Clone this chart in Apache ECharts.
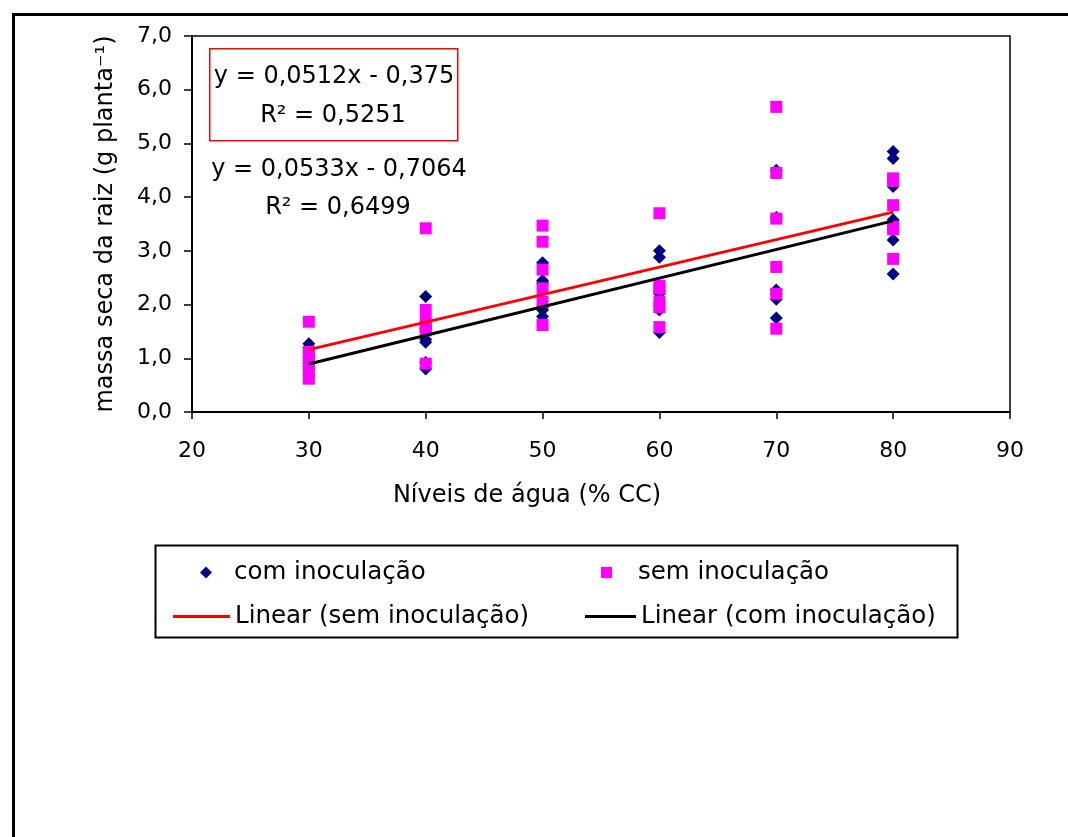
<!DOCTYPE html>
<html>
<head>
<meta charset="utf-8">
<script src="https://cdn.jsdelivr.net/npm/echarts@6/dist/echarts.min.js"></script>
<style>
  html, body { margin: 0; padding: 0; background: #fff; }
  #chart { width: 1068px; height: 837px; }
</style>
</head>
<body>
<div id="chart"></div>
<script>
// níveis de água (% CC)
const levels = [30, 40, 50, 60, 70, 80];

// massa seca da raiz, uma lista por nível
const comValues = [
  [1.27, 1.2, 1.02, 0.9, 0.85, 0.8],
  [2.15, 1.55, 1.35, 1.3, 0.92, 0.8],
  [2.78, 2.45, 2.4, 1.95, 1.9, 1.78],
  [3.0, 2.88, 2.25, 2.2, 1.9, 1.48],
  [4.5, 3.62, 2.27, 2.2, 2.1, 1.75],
  [4.85, 4.72, 4.2, 3.58, 3.2, 2.57]
];
const semValues = [
  [1.68, 1.12, 1.02, 0.92, 0.75, 0.62],
  [3.42, 1.9, 1.68, 1.58, 1.52, 0.9],
  [3.47, 3.17, 2.65, 2.3, 2.05, 1.62],
  [3.7, 2.35, 2.3, 2.05, 1.95, 1.58],
  [5.68, 4.45, 3.6, 2.7, 2.2, 1.55],
  [4.35, 4.3, 3.85, 3.45, 3.4, 2.85]
];

// linhas de tendência (extremos)
const trendSem = [[30, 1.161], [80, 3.721]];
const trendCom = [[30, 0.893], [80, 3.558]];

const names = ["com inoculação", "sem inoculação", "Linear (sem inoculação)", "Linear (com inoculação)"];

function toPoints(vals) {
  const pts = [];
  levels.forEach((lv, i) => vals[i].forEach(v => pts.push([lv, v])));
  return pts;
}

const font = "DejaVu Sans, Verdana, sans-serif";
const chart = echarts.init(document.getElementById("chart"), null, { renderer: "canvas" });

function legendText(pad) {
  return { fontSize: 24.5, color: "#000", fontFamily: font, padding: [0, 0, 0, pad] };
}

chart.setOption({
  animation: false,
  backgroundColor: "#fff",
  textStyle: { fontFamily: font },
  grid: { left: 192, right: 58, top: 36, bottom: 425, show: true, borderColor: "#000", borderWidth: 1.5 },
  xAxis: {
    type: "value", min: 20, max: 90, interval: 10,
    name: "Níveis de água (% CC)", nameLocation: "middle", nameGap: 72,
    nameTextStyle: { fontSize: 24, color: "#000", padding: [0, 148, 0, 0] },
    axisLine: { lineStyle: { color: "#000", width: 2 } },
    axisTick: { show: true, length: 7, lineStyle: { color: "#000", width: 1.5 } },
    axisLabel: { fontSize: 22, color: "#000", margin: 28 },
    splitLine: { show: false }
  },
  yAxis: {
    type: "value", min: 0, max: 7, interval: 1,
    name: "massa seca da raiz (g planta⁻¹)", nameLocation: "middle", nameGap: 74,
    nameTextStyle: { fontSize: 24, color: "#000" },
    axisLine: { lineStyle: { color: "#000", width: 2 } },
    axisTick: { show: true, length: 8, lineStyle: { color: "#000", width: 1.5 } },
    axisLabel: { fontSize: 22, color: "#000", margin: 20, formatter: v => v.toFixed(1).replace(".", ",") },
    splitLine: { show: false }
  },
  legend: [
    { data: [{ name: names[0], icon: "diamond" }], selectedMode: false, left: 195, top: 555, itemWidth: 12, itemHeight: 12, textStyle: legendText(17) },
    { data: [{ name: names[1], icon: "rect" }], selectedMode: false, left: 596, top: 555, itemWidth: 11, itemHeight: 11, textStyle: legendText(21) },
    { data: [{ name: names[2], icon: "rect" }], selectedMode: false, left: 168, top: 599, itemWidth: 57, itemHeight: 3, textStyle: legendText(0) },
    { data: [{ name: names[3], icon: "rect" }], selectedMode: false, left: 580, top: 599, itemWidth: 51, itemHeight: 3, textStyle: legendText(0) }
  ],
  graphic: [
    { type: "rect", left: 11, top: 12, shape: { width: 1100, height: 900 }, style: { fill: "none", stroke: "#000", lineWidth: 3 }, silent: true },
    { type: "rect", left: 153, top: 543, shape: { width: 802, height: 92 }, style: { fill: "none", stroke: "#000", lineWidth: 2 }, silent: true },
    { type: "rect", left: 209, top: 48, shape: { width: 248, height: 92 }, style: { fill: "#fff", stroke: "#ff0000", lineWidth: 1.5 }, z: 10 },
    { type: "text", x: 334, y: 77, style: { text: "y = 0,0512x - 0,375", fontSize: 24, fill: "#000", fontFamily: font, align: "center", verticalAlign: "middle" }, z: 11 },
    { type: "text", x: 333, y: 116, style: { text: "R² = 0,5251", fontSize: 24, fill: "#000", fontFamily: font, align: "center", verticalAlign: "middle" }, z: 11 },
    { type: "text", x: 339, y: 170, style: { text: "y = 0,0533x - 0,7064", fontSize: 24, fill: "#000", fontFamily: font, align: "center", verticalAlign: "middle" }, z: 11 },
    { type: "text", x: 338, y: 208, style: { text: "R² = 0,6499", fontSize: 24, fill: "#000", fontFamily: font, align: "center", verticalAlign: "middle" }, z: 11 }
  ],
  series: [
    { name: names[0], type: "scatter", symbol: "diamond", symbolSize: 13, itemStyle: { color: "#000080", opacity: 1 }, data: toPoints(comValues), z: 2 },
    { name: names[1], type: "scatter", symbol: "rect", symbolSize: 12, itemStyle: { color: "#ff00ff", opacity: 1 }, data: toPoints(semValues), z: 3 },
    { name: names[2], type: "line", symbol: "none", lineStyle: { color: "#ff0000", width: 3 }, itemStyle: { color: "#ff0000" }, data: trendSem, z: 4 },
    { name: names[3], type: "line", symbol: "none", lineStyle: { color: "#000", width: 3 }, itemStyle: { color: "#000" }, data: trendCom, z: 4 }
  ]
});
</script>
</body>
</html>
